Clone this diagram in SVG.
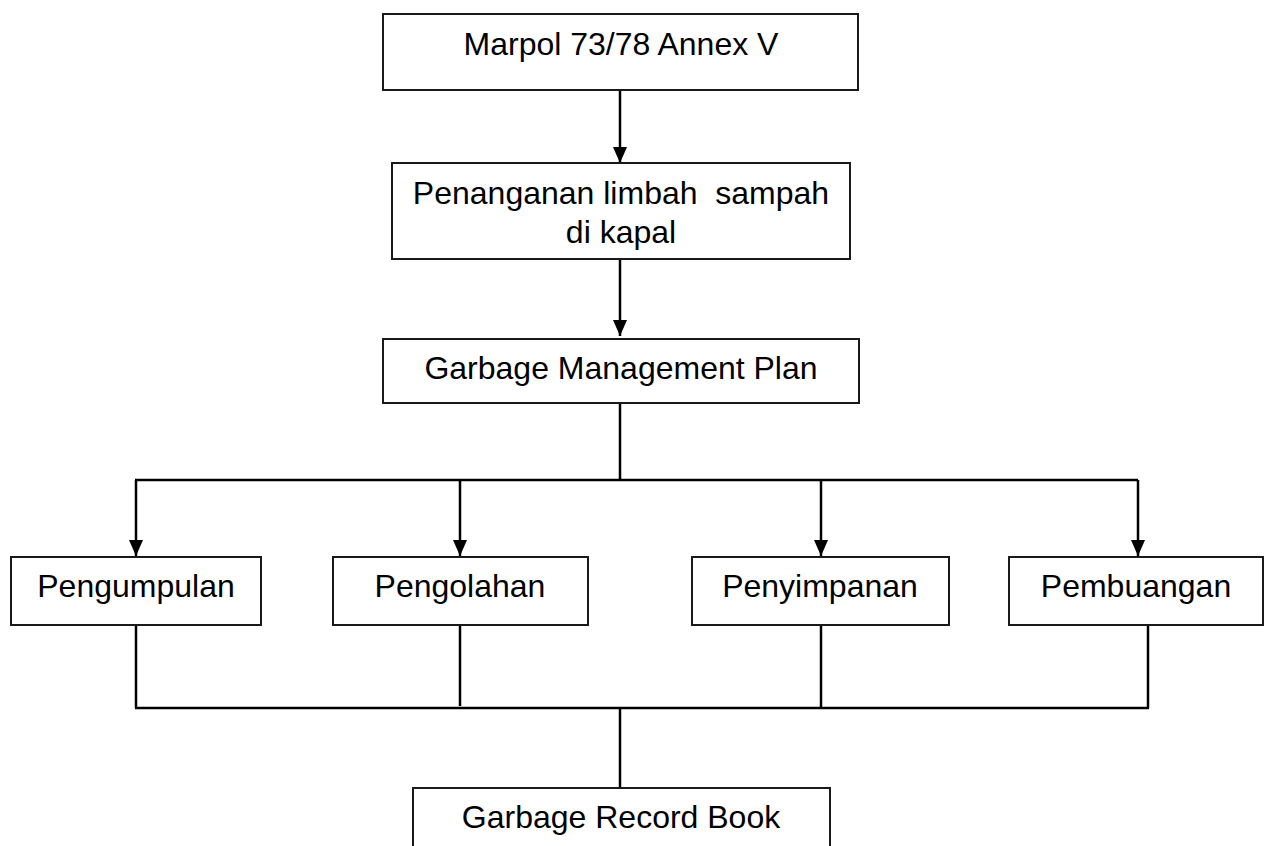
<svg xmlns="http://www.w3.org/2000/svg" width="1278" height="846" viewBox="0 0 1278 846">
<style>
.box{fill:#fff;stroke:#1a1a1a;stroke-width:2}
.t{font-family:"Liberation Sans",Arial,sans-serif;font-size:32px;fill:#000;text-anchor:middle}
.c{stroke:#000;stroke-width:2.5;fill:none}
</style>
<defs>
<marker id="ah" viewBox="0 0 16 14" refX="16" refY="7" markerWidth="16" markerHeight="14" markerUnits="userSpaceOnUse" orient="auto">
<path d="M0,0 L16,7 L0,14 Z" fill="#000"/>
</marker>
</defs>
<rect width="1278" height="846" fill="#fff"/>
<g id="connectors">
<line class="c" x1="620" y1="89" x2="620" y2="163" marker-end="url(#ah)"/>
<line class="c" x1="620" y1="259" x2="620" y2="336" marker-end="url(#ah)"/>
<line class="c" x1="620" y1="403" x2="620" y2="480"/>
<line class="c" x1="135" y1="480" x2="1138" y2="480"/>
<line class="c" x1="136" y1="480" x2="136" y2="556" marker-end="url(#ah)"/>
<line class="c" x1="460" y1="480" x2="460" y2="556" marker-end="url(#ah)"/>
<line class="c" x1="821" y1="480" x2="821" y2="556" marker-end="url(#ah)"/>
<line class="c" x1="1138" y1="480" x2="1138" y2="556" marker-end="url(#ah)"/>
<line class="c" x1="136" y1="625" x2="136" y2="708"/>
<line class="c" x1="460" y1="625" x2="460" y2="706"/>
<line class="c" x1="821" y1="625" x2="821" y2="708"/>
<line class="c" x1="1148" y1="625" x2="1148" y2="708"/>
<line class="c" x1="135" y1="708" x2="1149" y2="708"/>
<line class="c" x1="620" y1="708" x2="620" y2="788"/>
</g>
<g id="n1"><rect class="box" x="383" y="14" width="475" height="76"/><text class="t" x="621" y="55">Marpol 73/78 Annex V</text></g>
<g id="n2"><rect class="box" x="392" y="163" width="458" height="96"/><text class="t" x="621" y="204" xml:space="preserve">Penanganan limbah  sampah</text><text class="t" x="621" y="243">di kapal</text></g>
<g id="n3"><rect class="box" x="383" y="339" width="476" height="64"/><text class="t" x="621" y="379">Garbage Management Plan</text></g>
<g id="n4"><rect class="box" x="11" y="557" width="250" height="68"/><text class="t" x="136" y="597">Pengumpulan</text></g>
<g id="n5"><rect class="box" x="333" y="557" width="255" height="68"/><text class="t" x="460" y="597">Pengolahan</text></g>
<g id="n6"><rect class="box" x="692" y="557" width="257" height="68"/><text class="t" x="820" y="597">Penyimpanan</text></g>
<g id="n7"><rect class="box" x="1009" y="557" width="254" height="68"/><text class="t" x="1136" y="597">Pembuangan</text></g>
<g id="n8"><rect class="box" x="413" y="788" width="417" height="70"/><text class="t" x="621" y="828">Garbage Record Book</text></g>
</svg>
